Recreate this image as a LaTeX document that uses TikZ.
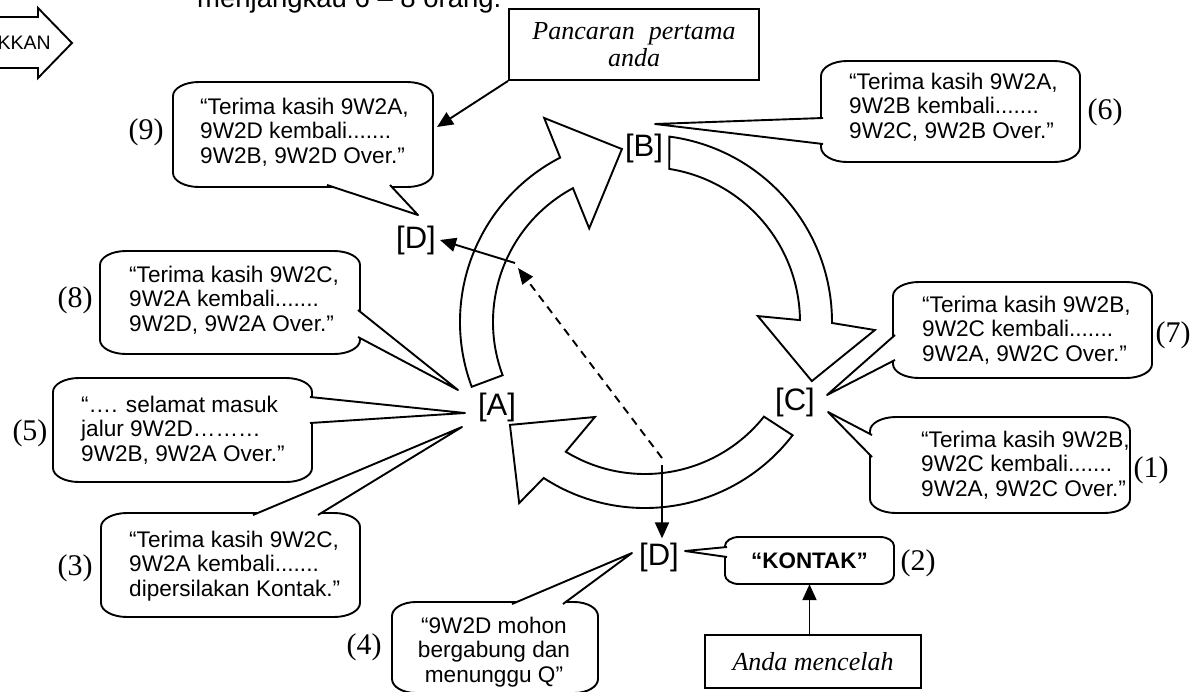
\documentclass[tikz,border=0pt]{standalone}
\usepackage{fontspec}
\setmainfont{Liberation Sans}
\newfontfamily\serifrm{Liberation Serif}
\usetikzlibrary{arrows.meta}
% rounded box with elliptical corners: x1 y1 x2 y2 rx ry (pixel coords, y downwards)
\newcommand{\bubshape}[6]{%
  \filldraw[bubline,fill=white] (#1+#5,-#2) -- (#3-#5,-#2)
    arc[start angle=90,end angle=0,x radius=#5pt,y radius=#6pt] -- (#3,-#4+#6)
    arc[start angle=0,end angle=-90,x radius=#5pt,y radius=#6pt] -- (#1+#5,-#4)
    arc[start angle=270,end angle=180,x radius=#5pt,y radius=#6pt] -- (#1,-#2-#6)
    arc[start angle=180,end angle=90,x radius=#5pt,y radius=#6pt] -- cycle;}
% callout pointer: base1, tip, base2
\newcommand{\bubptr}[3]{%
  \fill[white] #1 -- #2 -- #3 -- cycle;
  \draw[bubline] #1 -- #2 -- #3;}
\begin{document}
\begin{tikzpicture}[x=1pt,y=1pt,
  line/.style={line width=1.9pt},
  bubline/.style={draw=black,line width=1.9pt,line join=round},
  ring/.style={draw=black,fill=white,line width=1.9pt,line join=miter},
  arr/.style={line width=1.9pt,-{Triangle[length=16pt,width=14pt]}},
  btext/.style={anchor=north west,inner sep=0pt,align=left,font=\fontsize{22.6}{24.7}\selectfont},
  lab/.style={inner sep=4pt,font=\fontsize{31}{33}\selectfont},
  num/.style={inner sep=0pt,font=\serifrm\fontsize{30}{32}\selectfont},
  itbox/.style={draw,line width=1.9pt,fill=white,inner sep=0pt,align=center,font=\serifrm\itshape\fontsize{26}{27}\selectfont}
]
\useasboundingbox (0,0) rectangle (1202,-691);
\fill[white] (0,0) rectangle (1202,-691);

% top-left block arrow and top text
\draw[line,fill=white,line join=miter] (-10,-17) -- (38,-17) -- (38,-8) -- (72,-43) -- (38,-78) -- (38,-68) -- (-10,-68) -- cycle;
\node[anchor=east,inner sep=0pt,font=\fontsize{19.5}{21}\selectfont] (kkan) at (51,-43) {KKAN};
\node[anchor=base west,inner sep=0pt,font=\fontsize{27.5}{29}\selectfont] (toptxt) at (197,-7) {menjangkau 6 – 8 orang.};

% ring of curved block arrows
\begin{scope}[shift={(645,-322)}]
\draw[ring] (200.5:185) arc[start angle=200.5,end angle=117.3,radius=185pt] -- (116.3:227.6) -- (97.6:174.5) -- (120.8:109) -- (118.3:152) arc[start angle=118.3,end angle=200.5,radius=152pt] -- cycle;
\draw[ring] (82.5:187) arc[start angle=82.5,end angle=-0.3,radius=187pt] -- (-2:230) -- (-19.5:177) -- (3:113) -- (0.7:155) arc[start angle=0.7,end angle=81,radius=155pt] -- cycle;
\draw[ring] (-37.5:186) arc[start angle=-37.5,end angle=-123,radius=186pt] -- (-124.8:220.5) -- (-142.7:169.8) -- (-117.8:107.4) -- (-121.4:152) arc[start angle=-121.4,end angle=-38.5,radius=152pt] -- cycle;
\end{scope}

% station labels
\node[lab] (A) at (497,-407) {[A]};
\node[lab] (B) at (644,-148) {[B]};
\node[lab] (C) at (795,-402) {[C]};
\node[lab] (Dup) at (416,-240) {[D]};
\node[lab] (Dlow) at (659,-557) {[D]};

% D arrows
\coordinate (k) at (662,-458);
\coordinate (j) at (518,-268);
\coordinate (j2) at (515,-263);
\draw[line,dash pattern=on 8pt off 6pt,-{Triangle[length=16pt,width=13pt]}] (k) -- (j);
\draw[arr] (j2) -- (Dup.east);
\draw[arr] ([yshift=-7pt]k) -- (k |- Dlow.north);

% callout (9)
\bubshape{173}{82}{433}{187}{26}{14}
\bubptr{(327,-185)}{(418,-215)}{(390,-185)}
\node[btext] (t9) at (200,-97.5) {“Terima kasih 9W2A,\\9W2D kembali.......\\9W2B, 9W2D Over.”};
\node[num] (n9) at (146,-132) {(9)};

% callout (6)
\bubshape{821}{61}{1080}{162}{26}{15}
\bubptr{(823,-118)}{(655,-124)}{(823,-144)}
\node[btext] (t6) at (849,-72.5) {“Terima kasih 9W2A,\\9W2B kembali.......\\9W2C, 9W2B Over.”};
\node[num] (n6) at (1105,-112) {(6)};

% callout (8)
\bubshape{100}{251}{360}{354}{26}{14}
\bubptr{(358,-310)}{(458,-390)}{(358,-337)}
\node[btext] (t8) at (129,-265.5) {“Terima kasih 9W2C,\\9W2A kembali.......\\9W2D, 9W2A Over.”};
\node[num] (n8) at (75,-300) {(8)};

% callout (5)
\bubshape{53}{378}{312}{482}{26}{14}
\bubptr{(310,-397)}{(465,-413)}{(310,-423)}
\node[btext] (t5) at (81,-395.5) {“…. selamat masuk\\jalur 9W2D………\\9W2B, 9W2A Over.”};
\node[num] (n5) at (30,-433) {(5)};

% callout (3)
\bubshape{101}{513}{360}{617}{26}{14}
\bubptr{(253,-515)}{(462,-427)}{(318,-515)}
\node[btext] (t3) at (129,-530.5) {“Terima kasih 9W2C,\\9W2A kembali.......\\dipersilakan Kontak.”};
\node[num] (n3) at (75,-568) {(3)};

% callout (4)
\bubshape{392}{602}{598}{693}{24}{14}
\bubptr{(512,-604)}{(632,-553)}{(563,-604)}
\node[btext,anchor=north,align=center] (t4) at (494,-616.5) {“9W2D mohon\\bergabung dan\\menunggu Q”};
\node[num] (n4) at (364,-647) {(4)};

% callout (7)
\bubshape{893}{282}{1152}{378}{26}{14}
\bubptr{(895,-335)}{(827,-395)}{(895,-360)}
\node[btext] (t7) at (922,-295.5) {“Terima kasih 9W2B,\\9W2C kembali.......\\9W2A, 9W2C Over.”};
\node[num] (n7) at (1173,-335) {(7)};

% callout (1)
\bubshape{870}{417}{1130}{513}{26}{14}
\bubptr{(872,-435)}{(828,-412)}{(872,-457)}
\node[btext] (t1) at (921,-430.5) {“Terima kasih 9W2B,\\9W2C kembali.......\\9W2A, 9W2C Over.”};
\node[num] (n1) at (1151,-470) {(1)};

% callout (2) KONTAK
\bubshape{725}{537}{894}{584}{14}{9}
\bubptr{(727,-547)}{(685,-551)}{(727,-557)}
\node[inner sep=0pt,minimum width=169pt,minimum height=47pt,font=\bfseries\fontsize{22.4}{24}\selectfont] (kon) at (809.5,-560.5) {“KONTAK”};
\node[num] (n2) at (918,-563) {(2)};

% italic boxes and their arrows
\node[itbox,minimum width=250pt,minimum height=71pt] (pan) at (634,-44.5) {Pancaran\hspace{14pt}pertama\\anda};
\coordinate (p9) at (437,-127);
\draw[arr] (pan.south west) -- (p9);
\node[itbox,minimum width=216pt,minimum height=53pt] (anda) at (813,-661.5) {Anda mencelah};
\draw[arr] (anda.north -| kon.south) -- (kon.south);
\end{tikzpicture}
\end{document}
